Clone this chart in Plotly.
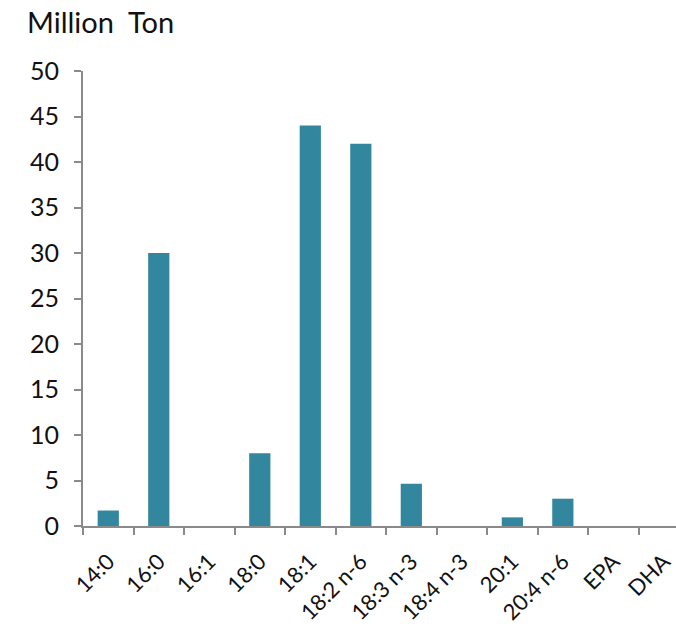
import plotly.graph_objects as go

categories = ["14:0", "16:0", "16:1", "18:0", "18:1", "18:2 n-6", "18:3 n-3",
              "18:4 n-3", "20:1", "20:4 n-6", "EPA", "DHA"]
values = [1.7, 30, 0, 8, 44, 42, 4.65, 0, 0.95, 3, 0, 0]
y_ticks = [0, 5, 10, 15, 20, 25, 30, 35, 40, 45, 50]

BAR = "#32869E"
AXIS = "#8a8a8a"
FONT = "Lato, 'Open Sans', sans-serif"

fig = go.Figure(go.Bar(
    x=categories, y=values,
    marker=dict(color=BAR, line=dict(width=0)),
    width=0.42,
))

fig.update_layout(
    width=676, height=631,
    margin=dict(l=83, r=0, t=71, b=105),
    plot_bgcolor="white", paper_bgcolor="white",
    showlegend=False,
    font=dict(family=FONT, size=25, color="#111111"),
    annotations=[dict(
        text="Million\u00a0 Ton", xref="paper", yref="paper",
        x=(25 - 83) / 593, y=1.0, xanchor="left", yanchor="middle", yshift=50,
        showarrow=False, font=dict(size=29, family=FONT, color="#111111"),
    )],
)

fig.update_xaxes(
    type="category", range=[-0.5, 11.24], automargin=False,
    showline=True, linecolor=AXIS, linewidth=2,
    ticks="outside", tickson="boundaries", ticklen=7, tickcolor=AXIS, tickwidth=2,
    tickangle=-45, showgrid=False, zeroline=False, ticklabelstandoff=12,
    tickfont=dict(size=22, family=FONT),
)
fig.update_yaxes(
    range=[0, 50], tickvals=y_ticks, automargin=False,
    showline=True, linecolor=AXIS, linewidth=2,
    ticks="outside", ticklen=7, tickcolor=AXIS, tickwidth=2,
    showgrid=False, zeroline=False, ticklabelstandoff=10,
    tickfont=dict(size=25, family=FONT),
)

fig.write_html("out.html")
